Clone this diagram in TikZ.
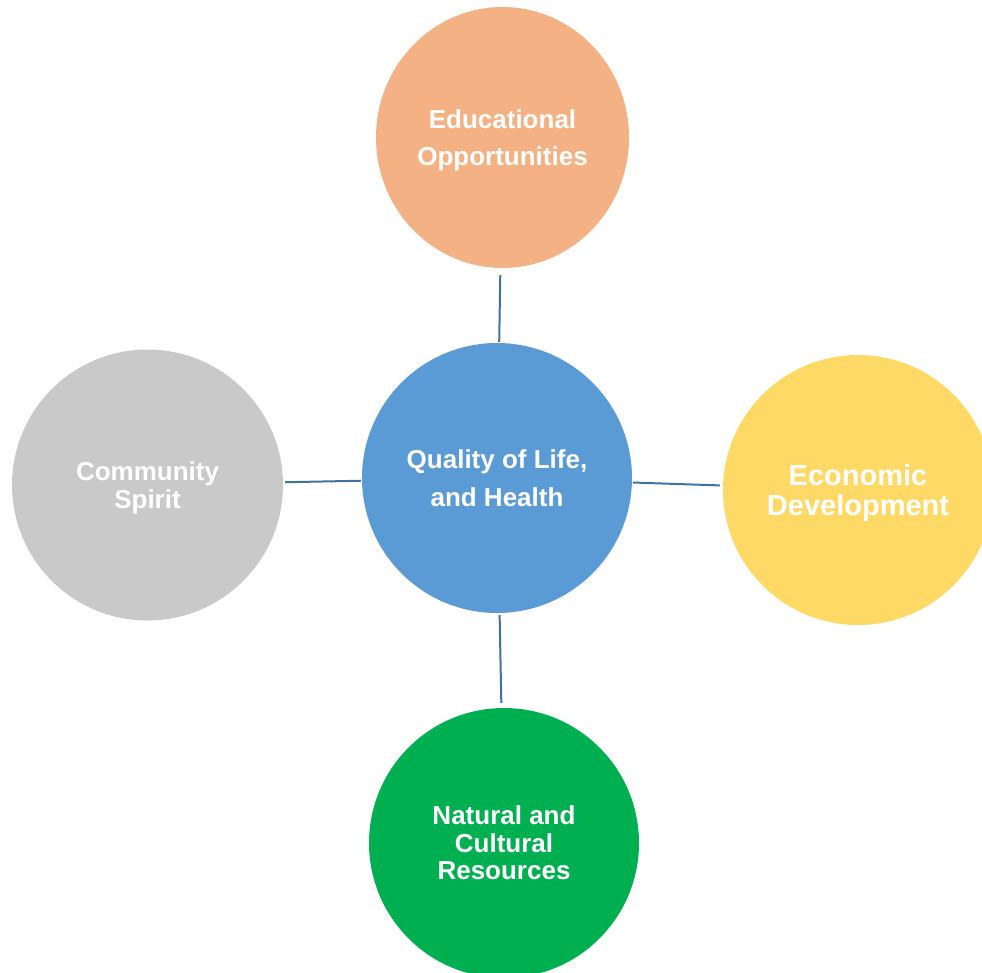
\documentclass[tikz,border=0pt]{standalone}
\usepackage{fontspec}
\setmainfont{Liberation Sans}
\usetikzlibrary{shapes.geometric}
\definecolor{cEdu}{HTML}{F4B183}
\definecolor{cMid}{HTML}{5B9BD5}
\definecolor{cCom}{HTML}{C9C9C9}
\definecolor{cEco}{HTML}{FFD966}
\definecolor{cNat}{HTML}{00B050}
\definecolor{cLine}{HTML}{41719C}
\tikzset{
  bubble/.style={circle, fill=#1, draw=none, inner sep=0pt, minimum size=270pt,
    text=white, align=center, text depth=0pt},
  link/.style={draw=cLine, line width=2pt}
}
\begin{document}
\begin{tikzpicture}[x=1pt,y=-1pt]
\useasboundingbox (0,0) rectangle (982,972);
\clip (0,0) rectangle (982,972);
\node[bubble=cMid, text height=56.6pt, font=\bfseries\fontsize{26}{38}\selectfont] (mid) at (497,478) {Quality of Life,\\and Health};
\node[bubble=cEdu, ellipse, minimum width=253pt, minimum height=261pt, text height=55.1pt, font=\bfseries\fontsize{26}{36.5}\selectfont] (edu) at (502.5,137.5) {Educational\\Opportunities};
\node[bubble=cCom, minimum size=271pt, text height=46.6pt, font=\bfseries\fontsize{26}{28}\selectfont] (com) at (147.5,485) {Community\\Spirit};
\node[bubble=cEco, text height=50.3pt, font=\bfseries\fontsize{29}{29.5}\selectfont] (eco) at (858,490) {Economic\\Development};
\node[bubble=cNat, text height=73.6pt, font=\bfseries\fontsize{26}{27.5}\selectfont] (nat) at (504,843) {Natural and\\Cultural\\Resources};
\draw[link, shorten <=1pt, shorten >=7pt] (mid) -- (edu);
\draw[link, shorten <=1pt, shorten >=2pt] (mid) -- (com);
\draw[link, shorten <=1pt, shorten >=3pt] (mid) -- (eco);
\draw[link, shorten <=2pt, shorten >=5pt] (mid) -- (nat);
\end{tikzpicture}
\end{document}
